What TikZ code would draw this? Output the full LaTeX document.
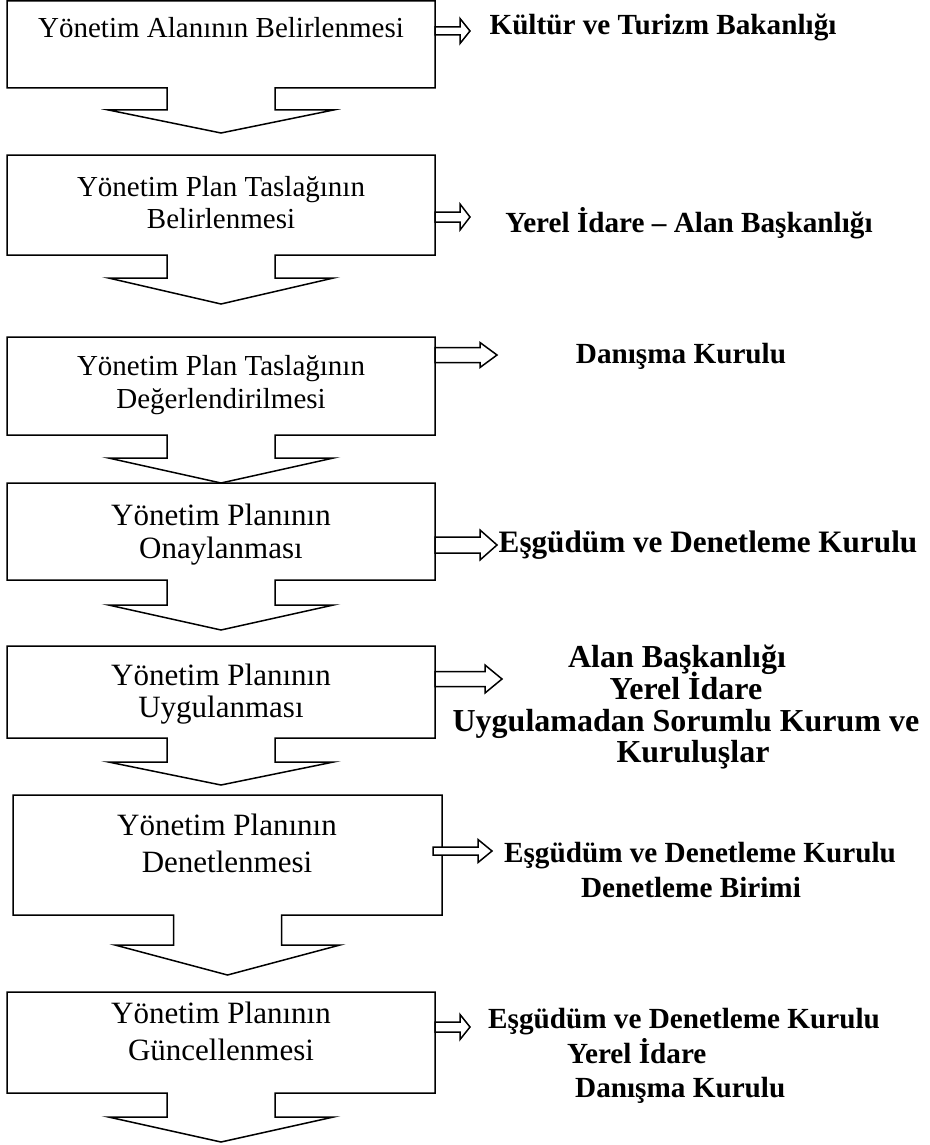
\documentclass[tikz,border=0pt]{standalone}
\usepackage{fontspec}
\setmainfont{Liberation Serif}
\newcommand\calloutbox[6]{% #1 left #2 right #3 top #4 bottom #5 stem bottom #6 tip
  \draw[boxline] (#1,#3) -- (#2,#3) -- (#2,#4)
    -- ({(#1+#2)/2+54},#4) -- ({(#1+#2)/2+54},#5) -- ({(#1+#2)/2+112.5},#5)
    -- ({(#1+#2)/2},#6)
    -- ({(#1+#2)/2-112.5},#5) -- ({(#1+#2)/2-54},#5) -- ({(#1+#2)/2-54},#4)
    -- (#1,#4) -- cycle;}
\newcommand\blockarrow[6]{% #1 tail x, #2 centre y, #3 head base x, #4 tip x, #5 shaft half, #6 head half
  \draw[boxline,fill=white] (#1,#2-#5) -- (#3,#2-#5) -- (#3,#2-#6) -- (#4,#2)
    -- (#3,#2+#6) -- (#3,#2+#5) -- (#1,#2+#5) -- cycle;}
\begin{document}
\begin{tikzpicture}[x=1pt,y=-1pt,
  boxline/.style={line width=1.5pt,line join=miter},
  boxtext/.style={anchor=base,inner sep=0pt,font=\fontsize{29}{34}\selectfont},
  boxtextl/.style={anchor=base,inner sep=0pt,font=\fontsize{31}{36}\selectfont},
  lab/.style={anchor=base,inner sep=0pt,font=\fontsize{29.2}{34}\selectfont\bfseries},
  labw/.style={anchor=base west,inner sep=0pt,font=\fontsize{29.2}{34}\selectfont\bfseries},
  labl/.style={anchor=base,inner sep=0pt,font=\fontsize{31.2}{36}\selectfont\bfseries},
  labx/.style={anchor=base,inner sep=0pt,font=\fontsize{32}{37}\selectfont\bfseries}]
\useasboundingbox (0,0) rectangle (929,1145);

% boxes with down-arrow callouts
\calloutbox{7}{435}{1}{88}{110}{133}
\calloutbox{7}{435}{155}{255}{278}{304}
\calloutbox{7}{435}{337}{435}{458}{483}
\calloutbox{7}{435}{483}{580}{605}{630}
\calloutbox{7}{435}{646}{738}{762}{785}
\calloutbox{13}{442}{795}{915}{945}{975}
\calloutbox{7}{435}{992}{1093}{1117}{1142}

% box texts
\node[boxtext] (t1a) at (221,38) {Yönetim Alanının Belirlenmesi};
\node[boxtext] (t2a) at (221,196) {Yönetim Plan Taslağının};
\node[boxtext] (t2b) at (221,228) {Belirlenmesi};
\node[boxtext] (t3a) at (221,375) {Yönetim Plan Taslağının};
\node[boxtext] (t3b) at (221,408) {Değerlendirilmesi};
\node[boxtextl] (t4a) at (221,525) {Yönetim Planının};
\node[boxtextl] (t4b) at (221,558) {Onaylanması};
\node[boxtextl] (t5a) at (221,685) {Yönetim Planının};
\node[boxtextl] (t5b) at (221,717) {Uygulanması};
\node[boxtextl] (t6a) at (227,835) {Yönetim Planının};
\node[boxtextl] (t6b) at (227,872) {Denetlenmesi};
\node[boxtextl] (t7a) at (221,1023) {Yönetim Planının};
\node[boxtextl] (t7b) at (221,1060) {Güncellenmesi};

% block arrows to the right
\blockarrow{435}{31}{460}{470}{4}{12.5}
\blockarrow{435}{217}{460}{470}{5}{13}
\blockarrow{435}{355}{480}{497}{7.5}{12.5}
\blockarrow{435}{545}{480}{497}{8}{15}
\blockarrow{435}{679}{485}{502}{7.5}{14}
\blockarrow{433}{851}{478}{492}{4}{11.5}
\blockarrow{435}{1027}{460}{470}{5}{12.5}

% right labels
\node[lab] (r1) at (663,35) {Kültür ve Turizm Bakanlığı};
\node[lab] (r2) at (689,232) {Yerel İdare – Alan Başkanlığı};
\node[lab] (r3) at (681,363) {Danışma Kurulu};
\node[labl] (r4) at (708,552) {Eşgüdüm ve Denetleme Kurulu};
\node[labx] (r5a) at (677,667) {Alan Başkanlığı};
\node[labx] (r5b) at (686,699) {Yerel İdare};
\node[labx] (r5c) at (686,731) {Uygulamadan Sorumlu Kurum ve};
\node[labx] (r5d) at (693,762) {Kuruluşlar};
\node[lab] (r6a) at (700,862) {Eşgüdüm ve Denetleme Kurulu};
\node[lab] (r6b) at (691,897) {Denetleme Birimi};
\node[labw] (r7a) at (488,1028) {Eşgüdüm ve Denetleme Kurulu};
\node[labw] (r7b) at (567,1063) {Yerel İdare};
\node[labw] (r7c) at (575,1097) {Danışma Kurulu};
\end{tikzpicture}
\end{document}
